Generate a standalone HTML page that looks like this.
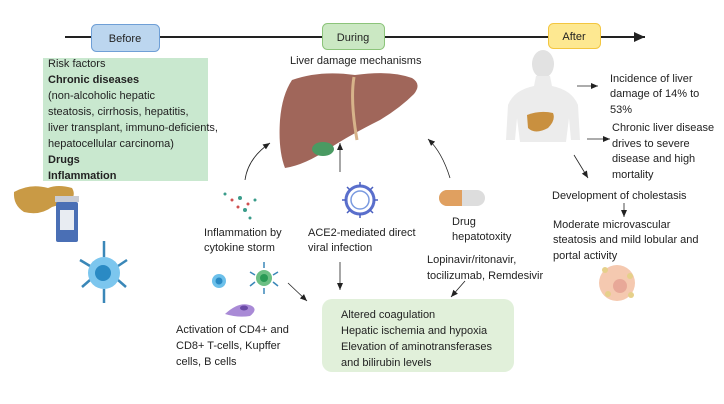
<!DOCTYPE html>
<html><head><meta charset="utf-8"><style>
html,body{margin:0;padding:0;background:#fff;}
svg{display:block;}
text{font-family:"Liberation Sans","DejaVu Sans",sans-serif;font-size:11px;fill:#222;}
.b{font-weight:bold;}
</style></head><body>
<svg width="724" height="404" viewBox="0 0 724 404" xmlns="http://www.w3.org/2000/svg">
<defs>
<marker id="ah" markerWidth="8" markerHeight="8" refX="7" refY="4" orient="auto" markerUnits="userSpaceOnUse">
<path d="M0,1 L7,4 L0,7 z" fill="#222"/></marker>
<marker id="ah2" markerWidth="12" markerHeight="10" refX="11" refY="5" orient="auto" markerUnits="userSpaceOnUse">
<path d="M0,0 L11,5 L0,10 z" fill="#222"/></marker>
</defs>
<line x1="65" y1="37" x2="645" y2="37" stroke="#222" stroke-width="2" marker-end="url(#ah2)"/>
<rect x="91.5" y="24.5" width="68" height="27" rx="5" fill="#bcd6ef" stroke="#6f9fd6"/>
<text x="125" y="42" text-anchor="middle">Before</text>
<rect x="322.5" y="23.5" width="62" height="26" rx="5" fill="#cbe8c3" stroke="#8cc47a"/>
<text x="353" y="41" text-anchor="middle">During</text>
<rect x="548.5" y="23.5" width="52" height="25" rx="5" fill="#fde891" stroke="#f3c640"/>
<text x="574" y="40" text-anchor="middle">After</text>
<rect x="43" y="58" width="165" height="123" fill="#c9e8cf"/>
<text x="48" y="67">Risk factors</text>
<text x="48" y="83" class="b">Chronic diseases</text>
<text x="48" y="99">(non-alcoholic hepatic</text>
<text x="48" y="115">steatosis, cirrhosis, hepatitis,</text>
<text x="48" y="131">liver transplant, immuno-deficients,</text>
<text x="48" y="147">hepatocellular carcinoma)</text>
<text x="48" y="163" class="b">Drugs</text>
<text x="48" y="179" class="b">Inflammation</text>
<path d="M14,192 Q30,183 48,188 Q58,184 72,188 Q77,196 68,203 Q58,205 52,207 Q40,216 24,212 Q13,205 14,192z" fill="#c99a45"/>
<rect x="55" y="196" width="24" height="6" fill="#c9ccd4"/>
<rect x="56" y="202" width="22" height="40" rx="2" fill="#4a6fb5"/>
<rect x="60" y="210" width="14" height="20" fill="#e8ecf2"/>
<g stroke="#3a87b8" stroke-width="2.5" fill="none">
<line x1="104" y1="257" x2="104" y2="241"/><line x1="104" y1="289" x2="104" y2="303"/>
<line x1="90" y1="266" x2="80" y2="260"/><line x1="118" y1="266" x2="127" y2="260"/>
<line x1="90" y1="280" x2="82" y2="287"/><line x1="118" y1="280" x2="126" y2="287"/>
</g>
<circle cx="104" cy="273" r="16" fill="#7cc6ee"/><circle cx="103" cy="273" r="8" fill="#2a8ac4"/>
<text x="290" y="64">Liver damage mechanisms</text>
<path d="M292,80 Q320,70 355,75 Q390,70 412,78 Q422,84 414,94 Q400,108 380,120 Q350,135 330,148 Q305,165 285,168 Q278,150 280,120 Q282,95 292,80z" fill="#a0665a"/>
<path d="M354,77 Q350,100 357,140" stroke="#d7b38a" stroke-width="3" fill="none"/>
<ellipse cx="323" cy="149" rx="11" ry="7" fill="#4a9a62"/>
<path d="M245,180 Q248,158 270,143" fill="none" stroke="#222" stroke-width="0.8" marker-end="url(#ah)"/>
<line x1="340" y1="172" x2="340" y2="143" stroke="#222" stroke-width="0.8" marker-end="url(#ah)"/>
<path d="M450,178 Q442,152 428,139" fill="none" stroke="#222" stroke-width="0.8" marker-end="url(#ah)"/>
<g fill="#3a9c8a"><circle cx="225" cy="194" r="1.5"/><circle cx="240" cy="198" r="2"/><circle cx="255" cy="200" r="1.5"/><circle cx="245" cy="210" r="2"/><circle cx="250" cy="218" r="1.5"/></g>
<g fill="#d05050"><circle cx="232" cy="200" r="1.5"/><circle cx="238" cy="207" r="1.5"/><circle cx="248" cy="204" r="1.5"/></g>
<circle cx="360" cy="200" r="14" fill="none" stroke="#5a6fcc" stroke-width="3"/>
<circle cx="360" cy="200" r="9" fill="none" stroke="#7a9ae0" stroke-width="1.5"/>
<g stroke="#4a60c0" stroke-width="1.5"><line x1="360" y1="182" x2="360" y2="186"/><line x1="360" y1="214" x2="360" y2="218"/><line x1="342" y1="200" x2="346" y2="200"/><line x1="374" y1="200" x2="378" y2="200"/><line x1="347" y1="187" x2="350" y2="190"/><line x1="373" y1="187" x2="370" y2="190"/><line x1="347" y1="213" x2="350" y2="210"/><line x1="373" y1="213" x2="370" y2="210"/></g>
<rect x="439" y="190" width="46" height="16" rx="8" fill="#ddd"/>
<path d="M447,190 H462 V206 H447 A8,8 0 0 1 447,190z" fill="#e0a060"/>
<text x="204" y="236">Inflammation by</text>
<text x="204" y="251">cytokine storm</text>
<text x="308" y="236">ACE2-mediated direct</text>
<text x="308" y="251">viral infection</text>
<text x="452" y="225">Drug</text>
<text x="452" y="240">hepatotoxity</text>
<text x="427" y="263">Lopinavir/ritonavir,</text>
<text x="427" y="279">tocilizumab, Remdesivir</text>
<circle cx="219" cy="281" r="7" fill="#6cc0ea"/><circle cx="219" cy="281" r="3.5" fill="#2a8ac4"/>
<circle cx="264" cy="278" r="8" fill="#6cbf84"/><circle cx="264" cy="278" r="4" fill="#2a9a56"/>
<g stroke="#3a87b8" stroke-width="1.5"><line x1="264" y1="262" x2="264" y2="268"/><line x1="264" y1="288" x2="264" y2="294"/><line x1="250" y1="272" x2="255" y2="275"/><line x1="278" y1="272" x2="273" y2="275"/><line x1="250" y1="286" x2="255" y2="282"/><line x1="278" y1="286" x2="273" y2="282"/></g>
<path d="M225,314 Q240,300 252,306 Q258,310 250,316 Q238,318 225,314z" fill="#a98ad6"/>
<ellipse cx="244" cy="308" rx="4" ry="2.5" fill="#6a4aa6"/>
<text x="176" y="333">Activation of CD4+ and</text>
<text x="176" y="349">CD8+ T-cells, Kupffer</text>
<text x="176" y="365">cells, B cells</text>
<line x1="288" y1="283" x2="307" y2="301" stroke="#222" stroke-width="0.8" marker-end="url(#ah)"/>
<line x1="340" y1="262" x2="340" y2="290" stroke="#222" stroke-width="0.8" marker-end="url(#ah)"/>
<line x1="465" y1="281" x2="451" y2="297" stroke="#222" stroke-width="0.8" marker-end="url(#ah)"/>
<rect x="322" y="299" width="192" height="73" rx="10" fill="#e1f0da"/>
<text x="341" y="318">Altered coagulation</text>
<text x="341" y="334">Hepatic ischemia and hypoxia</text>
<text x="341" y="350">Elevation of aminotransferases</text>
<text x="341" y="366">and bilirubin levels</text>
<ellipse cx="543" cy="64" rx="11" ry="14" fill="#e2e2e2"/>
<path d="M536,76 H550 L552,86 Q572,90 578,105 L580,140 L571,140 L569,118 L566,142 H520 L517,118 L515,140 L506,140 L508,105 Q514,90 534,86z" fill="#ececec"/>
<path d="M527,115 Q540,110 553,113 Q556,120 548,128 Q535,135 528,128z" fill="#c9903f"/>
<text x="610" y="82">Incidence of liver</text>
<text x="610" y="97">damage of 14% to</text>
<text x="610" y="113">53%</text>
<text x="612" y="131">Chronic liver disease</text>
<text x="612" y="147">drives to severe</text>
<text x="612" y="162">disease and high</text>
<text x="612" y="178">mortality</text>
<line x1="577" y1="86" x2="598" y2="86" stroke="#222" stroke-width="0.8" marker-end="url(#ah)"/>
<line x1="587" y1="139" x2="610" y2="139" stroke="#222" stroke-width="0.8" marker-end="url(#ah)"/>
<line x1="574" y1="155" x2="588" y2="178" stroke="#222" stroke-width="0.8" marker-end="url(#ah)"/>
<text x="552" y="199">Development of cholestasis</text>
<line x1="624" y1="203" x2="624" y2="217" stroke="#222" stroke-width="0.8" marker-end="url(#ah)"/>
<text x="553" y="228">Moderate microvascular</text>
<text x="553" y="243">steatosis and mild lobular and</text>
<text x="553" y="259">portal activity</text>
<circle cx="617" cy="283" r="18" fill="#f5c9b0"/>
<circle cx="620" cy="286" r="7" fill="#e8a898"/>
<circle cx="605" cy="270" r="3" fill="#e6d08a"/><circle cx="630" cy="276" r="3" fill="#e6d08a"/><circle cx="608" cy="294" r="3" fill="#e6d08a"/><circle cx="631" cy="295" r="3" fill="#e6d08a"/>
</svg>
</body></html>
